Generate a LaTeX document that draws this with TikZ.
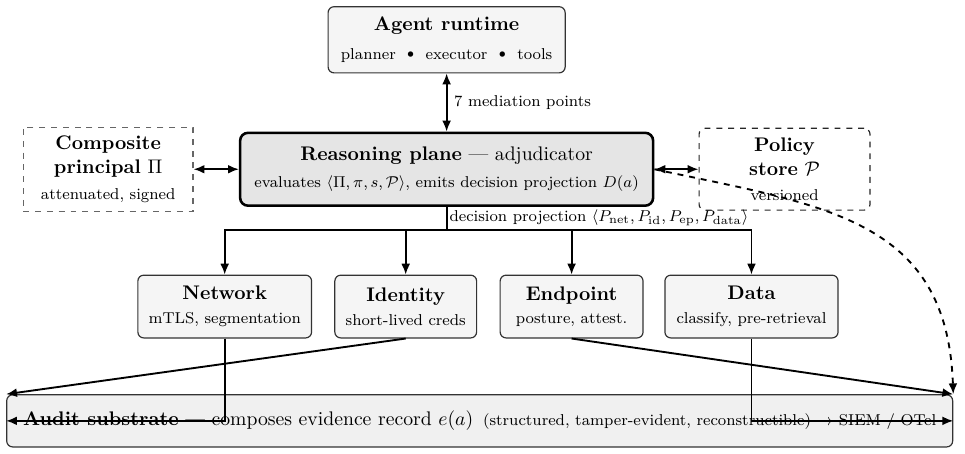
\documentclass[tikz,border=0pt]{standalone}
\usepackage{amsmath,amssymb}
\usepackage{tikz}
\usetikzlibrary{arrows.meta}

\begin{document}
\begin{tikzpicture}[>={Latex[length=5.5pt, width=4.5pt]},
		tier/.style = {draw=black!80, line width=0.6pt, fill=gray!8, rounded corners=3pt, align=center, minimum height=1.12cm, inner sep=2pt},
		core/.style = {draw=black, line width=1.3pt, fill=gray!20, rounded corners=4pt, align=center, inner sep=2pt},
		side/.style = {dashed, line width=0.6pt, fill=white, align=center, inner sep=2pt},
		link/.style = {->, line width=0.95pt},
		dlink/.style = {<->, line width=0.95pt}]
	\useasboundingbox (0,0) rectangle (17.22,-8.10);
	\node[tier, minimum width=4.23cm, minimum height=1.18cm] (agent) at (7.97,-0.71) {{\bfseries Agent runtime}\\[3pt]{\footnotesize planner\ \ \raisebox{0.35ex}{$\scriptstyle\bullet$}\ \ executor\ \ \raisebox{0.35ex}{$\scriptstyle\bullet$}\ \ tools}};
	\node[core, minimum width=7.37cm, minimum height=1.30cm] (reasoning) at (7.97,-3.02) {{\bfseries Reasoning plane} --- adjudicator\\[2pt]{\footnotesize evaluates $\langle \Pi, \pi, s, \mathcal{P}\rangle$, emits decision projection $D(a)$}};
	\node[side, draw=black!60, minimum width=3.03cm, minimum height=1.50cm] (principal) at (1.93,-3.02) {{\bfseries Composite}\\{\bfseries principal} $\Pi$\\[1pt]{\footnotesize attenuated, signed}};
	\node[side, draw=black!85, rounded corners=3pt, minimum width=3.05cm, minimum height=1.46cm] (policy) at (14.00,-3.02) {{\bfseries Policy}\\{\bfseries store} $\mathcal{P}$\\[1pt]{\footnotesize versioned}};
	\node[tier, minimum width=3.10cm] (network) at (4.01,-5.47) {{\bfseries Network}\\{\footnotesize mTLS, segmentation}};
	\node[tier, minimum width=2.53cm] (identity) at (7.24,-5.47) {{\bfseries Identity}\\{\footnotesize short-lived creds}};
	\node[tier, minimum width=2.55cm] (endpoint) at (10.20,-5.47) {{\bfseries Endpoint}\\{\footnotesize posture, attest.}};
	\node[tier, minimum width=3.09cm] (data) at (13.41,-5.47) {{\bfseries Data}\\{\footnotesize classify, pre-retrieval}};
	\node[tier, fill=gray!12, minimum width=16.88cm, minimum height=0.93cm] (audit) at (8.56,-7.51) {{\bfseries Audit substrate} --- composes evidence record $e(a)$\enspace{\footnotesize (structured, tamper-evident, reconstructible) $\rightarrow$ SIEM / OTel}};
	\coordinate (split) at (7.97,-4.10);
	\draw[dlink] (agent) -- node[right, font=\footnotesize] {7 mediation points} (reasoning);
	\draw[dlink] (principal) -- (reasoning);
	\draw[dlink] (reasoning) -- (policy);
	\draw[line width=0.95pt] (reasoning.south) node[anchor=north west, inner sep=1pt, font=\footnotesize] {decision projection $\langle P_{\text{net}}, P_{\text{id}}, P_{\text{ep}}, P_{\text{data}}\rangle$} -- (split);
	\foreach \t in {network,identity,endpoint,data}
	{
		\draw[link] (split) -| (\t.north);
	}
	\draw[link] (network.south) |- (audit.west);
	\draw[link] (identity.south) -- (audit.north west);
	\draw[link] (endpoint.south) -- (audit.north east);
	\draw[link] (data.south) |- (audit.east);
	\draw[link, dashed] (reasoning.east) to[out=-12, in=92, looseness=1.2] (audit.north east);
\end{tikzpicture}
\end{document}
